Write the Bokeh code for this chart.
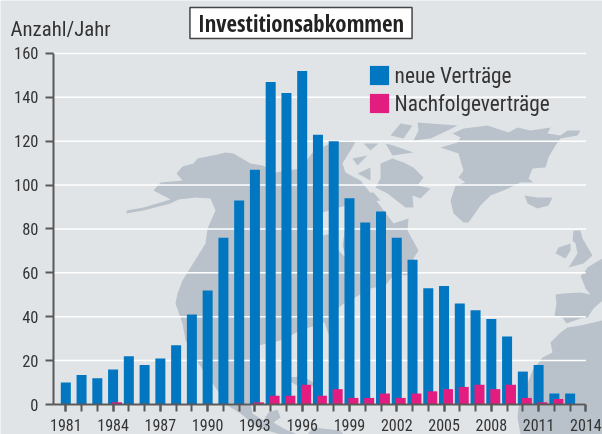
from bokeh.embed import file_html
from bokeh.resources import INLINE
from bokeh.plotting import figure
from bokeh.models import FixedTicker, Label, Legend, LegendItem, PolyAnnotation, ColumnDataSource, Range1d

years = list(range(1981, 2014))
new_treaties = [10, 13.5, 12, 16, 22, 18, 21, 27, 41, 52, 76, 93, 107, 147, 142, 152, 123, 120,
                94, 83, 88, 76, 66, 53, 54, 46, 43, 39, 31, 15, 18, 5, 5]
successor_treaties = [0, 0, 0, 1, 0, 0, 0, 0, 0, 0, 0, 0, 1, 4, 4, 9, 4, 7,
                      3, 3, 5, 3, 5, 6, 7, 8, 9, 7, 9, 3, 1, 2.5, 0]
tick_labels = [1981, 1984, 1987, 1990, 1993, 1996, 1999, 2002, 2005, 2008, 2011, 2014]
y_ticks = [0, 20, 40, 60, 80, 100, 120, 140, 160]
title_text = "Investitionsabkommen"
y_title = "Anzahl/Jahr"
legend_labels = ["neue Verträge", "Nachfolgeverträge"]

BG = "#e1e4e7"; LAND = "#b9c2ca"; BLUE = "#0077c0"; PINK = "#e31c7f"; INK = "#333333"; AXIS = "#58595b"
FONT = "Roboto Condensed"; TITLE_FONT = "Open Sans Condensed"

# decorative background map, window pixels
mainland = [(126,210),(143,207),(170,199),(153,190),(160,182),(182,180),(176,173),(182,166),(193,163),(197,158),
            (217,154),(225,152),(233,153),(250,163),(262,165),(275,172),(300,168),(312,152),(325,145),(340,140),
            (355,142),(350,150),(342,163),(345,172),(360,180),(372,195),(393,223),(408,218),(407,230),(418,250),
            (413,258),(417,270),(405,275),(395,272),(385,285),(370,288),(358,295),(345,302),(337,308),(336,335),
            (331,342),(324,322),(300,330),(280,340),(258,345),(258,400),(250,404),(252,413),(263,420),(268,412),
            (277,409),(280,417),(273,422),(283,428),(297,434),(280,434),(257,427),(240,413),(227,405),(217,390),
            (198,363),(185,340),(182,323),(175,303),(177,293),(182,280),(205,243),(207,228),(215,210),(210,198),
            (195,197),(178,199),(170,203),(143,210),(126,213)]
hudson = [(322,212),(345,205),(352,210),(345,225),(342,245),(346,258),(338,250),(335,232),(322,235)]
greenland = [(452,133),(463,128),(487,125),(508,132),(517,127),(530,130),(550,127),(547,133),(560,135),(567,130),
             (580,130),(577,135),(560,138),(555,145),(548,157),(545,167),(532,168),(528,178),(533,182),(520,182),
             (503,190),(490,195),(480,205),(468,222),(463,222),(453,213),(450,200),(455,185),(465,182),(458,177),
             (463,170),(458,153),(440,147),(457,142),(460,137)]
iceland = [(524,195),(537,197),(552,197),(548,205),(537,208),(527,203)]
ireland = [(555,253),(558,247),(570,243),(570,250),(565,258)]
britain = [(573,230),(580,230),(582,238),(592,255),(583,263),(568,267),(577,253),(575,243),(572,240)]
europe = [(602,258),(595,262),(587,267),(583,273),(580,275),(585,288),(590,294),(580,292),(563,293),(555,294),
          (556,303),(554,315),(562,317),(566,323),(580,318),(587,317),(593,308),(602,300)]
africa = [(567,327),(580,325),(602,320),(602,434),(520,434),(517,417),(518,407),(523,393),(532,370),(542,357),
          (552,352),(550,342),(560,332)]
ellesmere = [(417,122),(457,125),(443,132),(430,138),(413,140),(418,130)]
devon = [(390,135),(400,123),(412,125),(403,138)]
north_baffin = [(385,143),(393,145),(413,152),(392,155)]
baffin = [(380,163),(392,158),(403,162),(413,167),(423,177),(417,185),(410,183),(430,188),(420,198),(412,195),
          (413,207),(405,207),(387,193),(375,187),(380,178)]
isles = [[(352,158),(367,155),(357,165)], [(357,173),(370,167),(370,180)],
         [(343,140),(353,140),(350,150)], [(363,143),(378,143),(370,150)], [(358,193),(373,192),(380,200),(360,202)]]
cuba = [(283,377),(303,376),(318,385),(300,387)]
south_america = [(313,427),(340,430),(343,434),(307,434)]

W = 602; H = 434
X_PX = 15.76; Y_PX = 2.194

p = figure(width=W, height=H, output_backend="svg", toolbar_location=None,
           x_range=Range1d(1981 - 65.3 / X_PX, 1981 + (W - 65.3) / X_PX),
           y_range=Range1d(-(H - 404) / Y_PX, 404 / Y_PX),
           background_fill_color=BG, border_fill_color=BG, outline_line_color=None,
           min_border=0)
p.stylesheets = [":host{position:fixed;left:0;top:0}"]

def land(pts, color=LAND):
    p.add_layout(PolyAnnotation(xs=[a for a, _ in pts], ys=[H - b for _, b in pts],
                                xs_units="screen", ys_units="screen",
                                fill_color=color, fill_alpha=1, line_color=None, level="image"))
for shape in [mainland, greenland, iceland, ireland, britain, europe, africa, ellesmere, devon, north_baffin,
              baffin, cuba, south_america] + isles:
    land(shape)
land(hudson, BG)

p.xgrid.visible = False
p.ygrid.visible = False
p.segment(x0=[1980.22] * len(y_ticks), x1=[2014] * len(y_ticks), y0=y_ticks, y1=y_ticks,
          line_color="#ffffff", line_width=1.5, level="underlay")

src = ColumnDataSource(dict(x=years, new=new_treaties, succ=successor_treaties,
                            sx=[y + 0.25 for y in years]))
r1 = p.vbar(x="x", top="new", bottom=0, width=0.635, source=src, fill_color=BLUE, line_color=None)
r2 = p.vbar(x="sx", top="succ", bottom=0, width=0.635, source=src, fill_color=PINK, line_color=None)

yax = p.yaxis[0]
yax.fixed_location = 1980.22
yax.bounds = (0, 160)
yax.ticker = FixedTicker(ticks=y_ticks)
yax.axis_line_color = AXIS; yax.axis_line_width = 2
yax.major_tick_line_color = AXIS; yax.major_tick_line_width = 2
yax.major_tick_in = 0; yax.major_tick_out = 8; yax.minor_tick_line_color = None
yax.major_label_text_font = FONT; yax.major_label_text_font_size = "16.5px"
yax.major_label_text_color = INK; yax.major_label_standoff = 7

xax = p.xaxis[0]
xax.fixed_location = 0
xax.bounds = (1980.22, 2014)
xax.ticker = FixedTicker(ticks=tick_labels, minor_ticks=years + [2014])
xax.axis_line_color = AXIS; xax.axis_line_width = 2
xax.major_tick_line_color = AXIS; xax.major_tick_line_width = 2
xax.major_tick_in = 0; xax.major_tick_out = 7
xax.minor_tick_line_color = AXIS; xax.minor_tick_line_width = 2
xax.minor_tick_in = 0; xax.minor_tick_out = 7
xax.major_label_text_font = FONT; xax.major_label_text_font_size = "16px"
xax.major_label_text_color = INK; xax.major_label_standoff = 7

p.add_layout(Label(x=10, y=H - 28, x_units="screen", y_units="screen", text=y_title,
                   text_font=FONT, text_font_size="20.8px", text_color=INK, text_baseline="middle"))
p.add_layout(Label(x=300.5, y=H - 22.5, x_units="screen", y_units="screen", text=title_text,
                   text_font=TITLE_FONT, text_font_size="22.8px", text_color="#222222",
                   text_align="center", text_baseline="middle", background_fill_color="#ffffff",
                   border_line_color="#444444", border_line_width=1.5, padding=(8, 0)))

legend = Legend(items=[LegendItem(label=legend_labels[0], renderers=[r1]),
                       LegendItem(label=legend_labels[1], renderers=[r2])],
                location=(366.6, 318.4), orientation="vertical", background_fill_alpha=0, border_line_color=None,
                padding=0, margin=0, spacing=3, glyph_width=24, glyph_height=24, label_standoff=4,
                label_text_font=FONT, label_text_font_size="21.3px", label_text_color=INK, label_height=24)
p.add_layout(legend)

open("out.html", "w").write(file_html(p, INLINE))
